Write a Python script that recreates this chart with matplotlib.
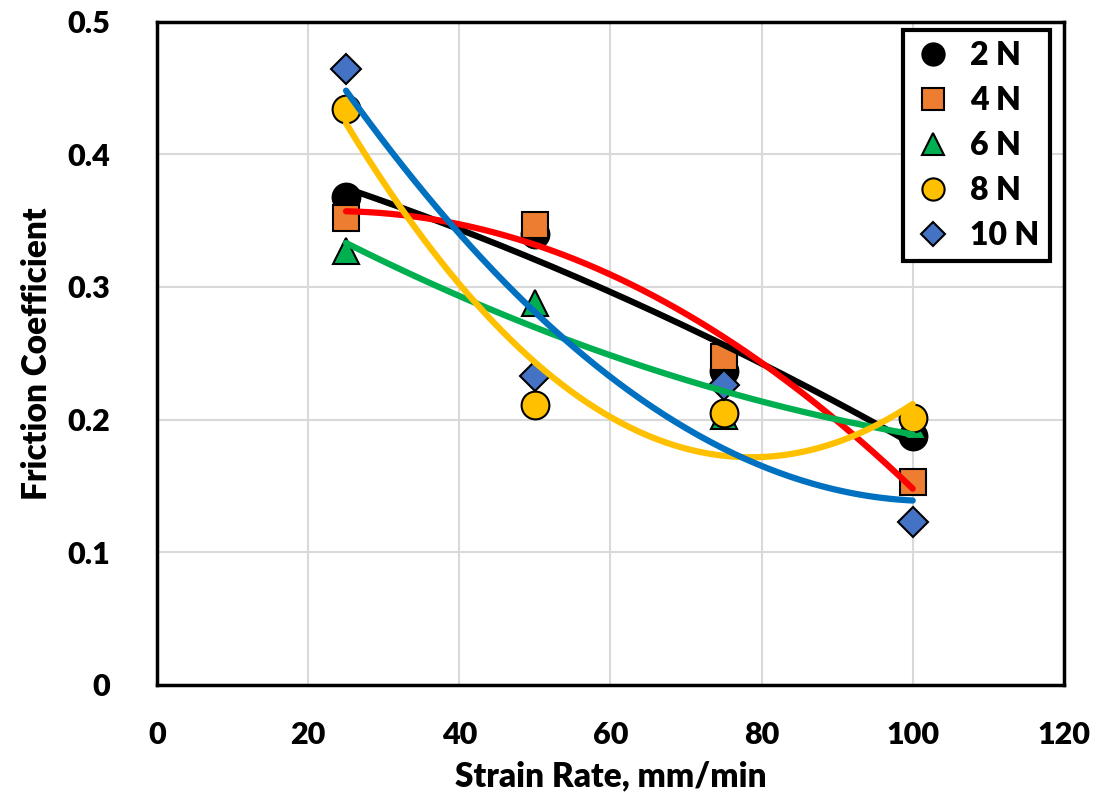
import numpy as np
import matplotlib.pyplot as plt

plt.rcParams['font.family'] = ['Lato', 'DejaVu Sans']
plt.rcParams['font.weight'] = 'heavy'

# Data
strain_rate = [25, 50, 75, 100]
loads = ["2 N", "4 N", "6 N", "8 N", "10 N"]
friction_2n = [0.368, 0.340, 0.237, 0.188]
friction_4n = [0.352, 0.347, 0.247, 0.153]
friction_6n = [0.327, 0.288, 0.203, 0.195]
friction_8n = [0.434, 0.211, 0.205, 0.201]
friction_10n = [0.464, 0.233, 0.226, 0.123]

series = [friction_2n, friction_4n, friction_6n, friction_8n, friction_10n]
markers = ["o", "s", "^", "o", "D"]
marker_sizes = [20, 19, 19, 20, 15]
face_colors = ["#000000", "#ED7D31", "#00B050", "#FFC000", "#4472C4"]
line_colors = ["#000000", "#FF0000", "#00B050", "#FFC000", "#0070C0"]

fig = plt.figure(figsize=(10.99, 8.02), dpi=100)
ax = fig.add_axes([0.143, 0.146, 0.825, 0.827])

x = np.array(strain_rate)
x_fit = np.linspace(25, 100, 200)

# markers first, polynomial trendlines on top
for vals, m, ms, fc, lab in zip(series, markers, marker_sizes, face_colors, loads):
    ax.plot(x, vals, linestyle="none", marker=m, markersize=ms,
            markerfacecolor=fc, markeredgecolor="black", markeredgewidth=1.5,
            label=lab, zorder=3)

for vals, lc in zip(series, line_colors):
    coef = np.polyfit(x, vals, 2)
    ax.plot(x_fit, np.polyval(coef, x_fit), color=lc, linewidth=4.5,
            solid_capstyle="round", zorder=4)

ax.set_xlim(0, 120)
ax.set_ylim(0, 0.5)
ax.set_xticks(np.arange(0, 121, 20))
ax.set_yticks(np.arange(0, 0.51, 0.1))
ax.set_yticklabels(["0", "0.1", "0.2", "0.3", "0.4", "0.5"])
ax.tick_params(length=0, labelsize=22)
ax.tick_params(axis="y", pad=34)
ax.tick_params(axis="x", pad=26)
for lbl in ax.get_xticklabels() + ax.get_yticklabels():
    lbl.set_fontweight("heavy")

ax.grid(True, color="#D9D9D9", linewidth=1.5)
ax.set_axisbelow(True)
for sp in ax.spines.values():
    sp.set_linewidth(2.5)
    sp.set_color("black")

ax.set_xlabel("Strain Rate, mm/min", fontsize=24, fontweight="heavy", labelpad=8)
ax.set_ylabel("Friction Coefficient", fontsize=24, fontweight="heavy", labelpad=10)

leg = ax.legend(loc="upper right", bbox_to_anchor=(0.985, 0.988), borderaxespad=0,
                fontsize=23, frameon=True, fancybox=False, edgecolor="black",
                framealpha=1, handlelength=1.2, handletextpad=0.55,
                borderpad=0.35, labelspacing=0.5, markerscale=0.8,
                alignment="right")
leg.get_frame().set_linewidth(3)
for t in leg.get_texts():
    t.set_fontweight("heavy")
    t.set_ha("right")

fig.savefig("out.png", dpi=100)
